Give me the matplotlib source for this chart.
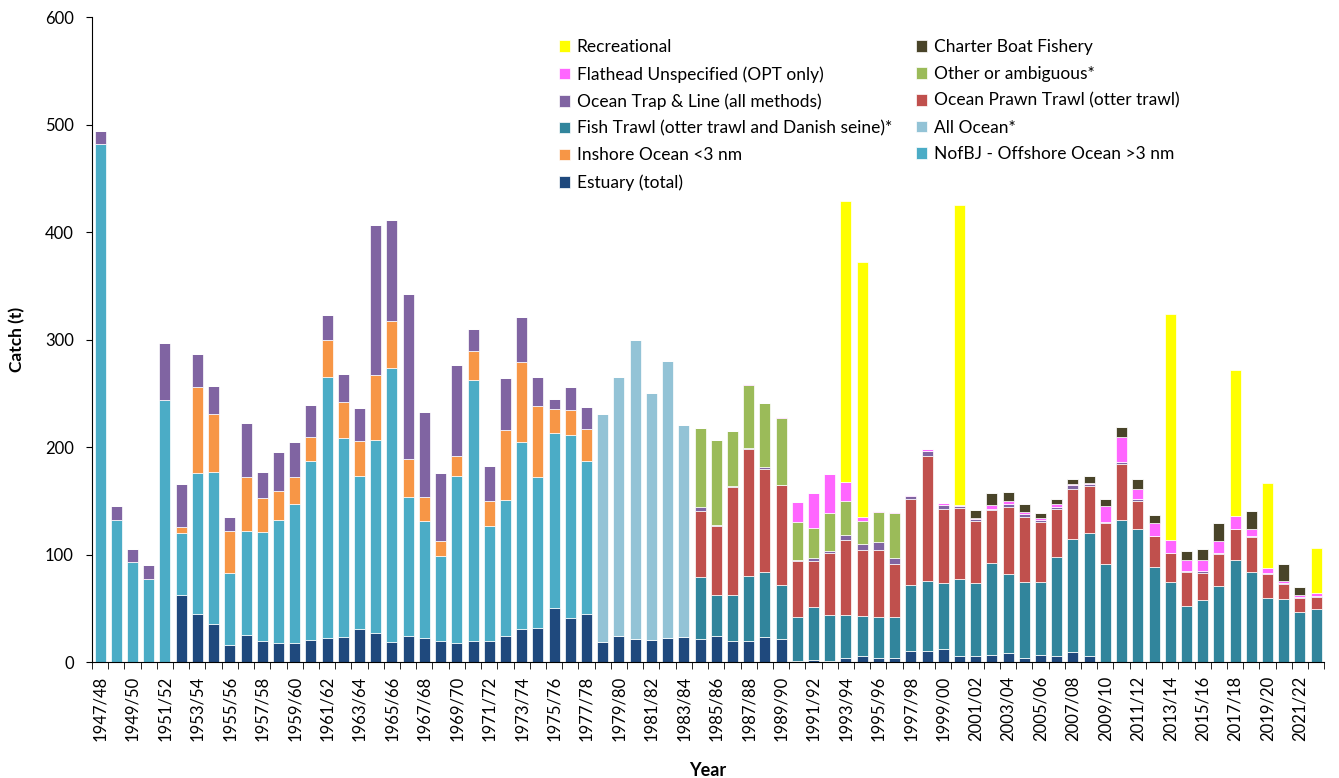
import matplotlib
matplotlib.use("Agg")
import numpy as np
import matplotlib.pyplot as plt

plt.rcParams['font.family'] = ['Lato', 'DejaVu Sans']

years = [f"{y}/{str(y + 1)[-2:]}" for y in range(1947, 2023)]

# catch (t) by fishery, 1947/48 .. 2022/23
estuary = [0, 0, 0, 0, 0, 62.5, 44.3, 35.1, 15.5, 25.0,
           19.3, 17.6, 18.0, 21.0, 22.0, 23.0, 30.7, 26.7, 18.6, 23.9,
           22.6, 19.5, 17.7, 19.5, 19.5, 23.9, 31.0, 31.6, 50.2, 41.2,
           44.3, 18.9, 24.2, 21.4, 20.8, 22.3, 23.6, 21.4, 24.5, 19.5,
           19.5, 23.3, 21.4, 0.6, 1.9, 0.9, 4.0, 5.3, 4.0, 3.4,
           9.9, 10.5, 11.8, 5.9, 5.3, 6.8, 8.0, 3.7, 6.5, 5.9,
           9.6, 5.6, 0, 0, 0, 0, 0, 0, 0, 0,
           0, 0, 0, 0, 0, 0]
nofbj_offshore = [482, 132, 93, 77, 244, 57.8, 131.7, 141.9, 67.3, 97.3,
                  101.7, 114.4, 129.3, 166.5, 243.5, 185.4, 142.3, 180.1, 254.7, 129.9,
                  108.6, 78.8, 155.6, 242.8, 107.3, 126.8, 173.3, 140.8, 163.1, 170.0,
                  143.0] + [0] * 45
inshore = [0, 0, 0, 0, 0, 5.0, 79.7, 53.4, 39.2, 49.7,
           31.4, 26.8, 25.3, 21.5, 33.8, 33.6, 32.4, 60.4, 43.7, 35.0,
           22.0, 14.6, 18.0, 26.7, 22.7, 64.8, 74.7, 65.4, 22.0, 22.9,
           29.4] + [0] * 45
all_ocean = [0] * 31 + [212.0, 240.6, 278.4, 229.2, 258.0, 196.6] + [0] * 39
fish_trawl = [0] * 37 + [57.4, 38.1, 42.5,
                         60.2, 60.4, 50.5, 41.6, 49.0, 42.8, 39.4, 37.2, 38.2, 38.2,
                         62.1, 65.2, 61.7, 71.6, 68.2, 85.3, 73.9, 71.0, 67.6, 92.1,
                         104.8, 114.4, 91.5, 132.2, 123.8, 88.5, 74.8, 52.5, 58.1, 70.8,
                         94.7, 84.2, 59.3, 58.7, 46.6, 49.4]
prawn_trawl = [0] * 37 + [62.0, 63.6, 100.8,
                          118.4, 96.1, 92.4, 52.1, 43.4, 58.0, 70.1, 62.0, 62.3, 49.3,
                          79.3, 115.6, 69.1, 65.5, 58.0, 49.0, 62.6, 59.9, 56.1, 44.3,
                          46.8, 44.0, 38.1, 52.4, 26.4, 29.1, 26.7, 31.3, 25.1, 30.1,
                          29.5, 31.9, 22.4, 13.7, 13.4, 11.5]
trap_line = [12, 13, 12, 13, 53, 40.2, 30.8, 26.4, 12.8, 50.0,
             24.6, 36.2, 31.8, 29.9, 24.0, 25.6, 31.1, 139.2, 94.5, 153.5,
             79.0, 63.2, 85.3, 21.0, 33.1, 48.7, 42.2, 27.0, 9.0, 22.0,
             20.5, 0, 0, 0, 0, 0, 0, 3.4, 1.6, 0.6,
             0.9, 1.9, 0, 0.6, 2.7, 1.3, 4.3, 5.3, 6.8, 5.5,
             2.8, 5.3, 3.1, 1.8, 1.2, 1.2, 2.2, 3.4, 1.6, 2.2,
             3.1, 1.9, 0.7, 1.3, 1.3, 0, 0, 0.6, 1.3, 0.6,
             0, 0.9, 0.9, 1.2, 0.6, 0.9]
other = [0] * 37 + [73.2, 78.7, 51.2,
                    58.4, 59.3, 62.7, 35.6, 27.3, 35.9, 32.2, 21.7, 28.2, 42.2] + [0] * 26
flathead_unspec = [0] * 40 + [0.9, 0, 1.0, 18.3, 32.9, 36.0, 17.1, 3.7, 1.0, 0.6,
                              1.6, 1.8, 1.9, 1.2, 1.6, 3.4, 3.1, 1.8, 1.8, 2.2,
                              1.6, 0.6, 14.8, 23.2, 9.6, 11.5, 12.4, 10.9, 10.8, 11.2,
                              11.7, 6.8, 4.7, 2.2, 1.5, 2.2]
charter = [0] * 54 + [7.4, 11.2, 8.0, 7.5, 5.3, 4.6,
                      4.6, 6.5, 6.9, 9.3, 9.3, 7.8, 0, 7.8, 10.2, 16.4,
                      0, 16.5, 0, 15.8, 8.1, 0]
recreational = [0] * 46 + [261.4, 236.6, 0, 0, 0, 0, 0, 278.8, 0, 0,
                           0, 0, 0, 0, 0, 0, 0, 0, 0, 0,
                           210.3, 0, 0, 0, 135.9, 0, 79.0, 0, 0, 41.9]

series = [
    ("Estuary (total)", estuary, "#1F497D"),
    ("NofBJ - Offshore Ocean >3 nm", nofbj_offshore, "#4BACC6"),
    ("Inshore Ocean <3 nm", inshore, "#F79646"),
    ("All Ocean*", all_ocean, "#93C3D6"),
    ("Fish Trawl (otter trawl and Danish seine)*", fish_trawl, "#31859C"),
    ("Ocean Prawn Trawl (otter trawl)", prawn_trawl, "#C0504D"),
    ("Ocean Trap & Line (all methods)", trap_line, "#8064A2"),
    ("Other or ambiguous*", other, "#9BBB59"),
    ("Flathead Unspecified (OPT only)", flathead_unspec, "#FF66FF"),
    ("Charter Boat Fishery", charter, "#494429"),
    ("Recreational", recreational, "#FFFF00"),
]

x = np.arange(len(years))
fig = plt.figure(figsize=(13.39, 7.78), dpi=100)
ax = fig.add_axes([0.0687, 0.149, 0.9203, 0.829])

bottom = np.zeros(len(years))
handles = {}
for name, vals, col in series:
    vals = np.array(vals, dtype=float)
    bars = ax.bar(x, vals, 0.68, bottom=bottom, color=col, edgecolor="white",
                  linewidth=0.5, label=name)
    handles[name] = bars
    bottom += vals

ax.set_xlim(-0.5, len(years) - 0.5)
ax.set_ylim(0, 600)
ax.set_yticks(range(0, 601, 100))
ax.tick_params(axis="y", labelsize=12, length=4, direction="out", pad=9)
ax.set_xticks(x[::2])
ax.set_xticklabels(years[::2], rotation=90, fontsize=12)
ax.tick_params(axis="x", which="major", length=0, pad=10)
ax.set_xticks(np.arange(-0.5, len(years), 1), minor=True)
ax.tick_params(axis="x", which="minor", length=5, direction="out")
for s in ["top", "right"]:
    ax.spines[s].set_visible(False)

ax.set_ylabel("Catch (t)", fontsize=12.5, fontweight="bold", labelpad=14)
ax.set_xlabel("Year", fontsize=13, fontweight="bold", labelpad=15)

order = ["Recreational", "Flathead Unspecified (OPT only)",
         "Ocean Trap & Line (all methods)",
         "Fish Trawl (otter trawl and Danish seine)*", "Inshore Ocean <3 nm",
         "Estuary (total)", "Charter Boat Fishery", "Other or ambiguous*",
         "Ocean Prawn Trawl (otter trawl)", "All Ocean*",
         "NofBJ - Offshore Ocean >3 nm"]
ax.legend([handles[n] for n in order], order, ncol=2, frameon=False,
          loc="upper left", bbox_to_anchor=(0.366, 0.99), fontsize=12.5,
          handlelength=0.65, handleheight=0.65, handletextpad=0.4,
          labelspacing=0.62, columnspacing=1.35)

fig.savefig("out.png", dpi=100)
